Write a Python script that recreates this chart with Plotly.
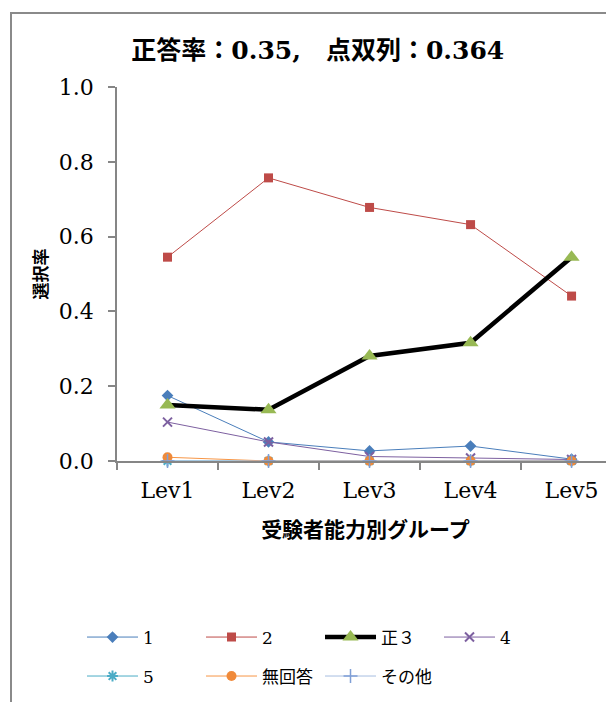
import plotly.graph_objects as go

categories = ["Lev1", "Lev2", "Lev3", "Lev4", "Lev5"]
s1 = [0.175, 0.051, 0.027, 0.040, 0.005]
s2 = [0.545, 0.757, 0.678, 0.632, 0.441]
s3 = [0.150, 0.137, 0.281, 0.316, 0.545]
s4 = [0.104, 0.051, 0.012, 0.008, 0.004]
s5 = [0.000, 0.000, 0.000, 0.000, 0.000]
s_none = [0.010, 0.000, 0.000, 0.000, 0.000]
s_other = [0.000, 0.000, 0.000, 0.000, 0.000]

names = ["1", "2", "正３", "4", "5", "無回答", "その他"]
title_text = "正答率：0.35,　点双列：0.364"

SERIF = "DejaVu Serif, Liberation Serif, Noto Sans CJK JP"

fig = go.Figure()

styles = [
    (s1, "#4a7ebb", 1, dict(symbol="diamond", size=9, color="#4a7ebb"), "legend"),
    (s2, "#be4b48", 1, dict(symbol="square", size=9, color="#be4b48"), "legend"),
    (s3, "#000000", 4.5, dict(symbol="triangle-up", size=14, color="#98b954"), "legend"),
    (s4, "#7d60a0", 1, dict(symbol="x-thin-open", size=9, color="#7d60a0", line=dict(width=2, color="#7d60a0")), "legend"),
    (s5, "#4bacc6", 1, dict(symbol="asterisk-open", size=9, color="#4bacc6", line=dict(width=2, color="#4bacc6")), "legend2"),
    (s_none, "#f79646", 1, dict(symbol="circle", size=10, color="#f08a3a"), "legend2"),
    (s_other, "#a7bde0", 1, dict(symbol="cross-thin-open", size=10, color="#7f9fd6", line=dict(width=1.5, color="#7f9fd6")), "legend2"),
]

for (vals, lc, lw, mk, lg), nm in zip(styles, names):
    fig.add_trace(go.Scatter(
        x=categories, y=vals, name=nm, mode="lines+markers",
        line=dict(color=lc, width=lw), marker=mk, cliponaxis=False, legend=lg,
    ))

leg_common = dict(orientation="h", xanchor="left", yanchor="top",
                  entrywidth=53, entrywidthmode="pixels", itemwidth=51,
                  font=dict(size=17, family=SERIF), itemclick=False,
                  bgcolor="rgba(0,0,0,0)")

fig.update_layout(
    width=606, height=694,
    margin=dict(l=109, r=0, t=79, b=241, autoexpand=False),
    paper_bgcolor="white", plot_bgcolor="white",
    font=dict(family=SERIF, color="#000000"),
    title=dict(text="<b>" + title_text + "</b>", x=0.404, xanchor="center",
               xref="paper",
               y=1 - 42 / 694, yanchor="middle",
               font=dict(size=25, family=SERIF, color="#000000")),
    showlegend=True,
    legend=dict(x=-0.0704, y=-0.4238, **leg_common),
    legend2=dict(x=-0.0704, y=-0.528, **leg_common),
    xaxis=dict(
        type="category", range=[-0.5, 4.42],
        showgrid=False, zeroline=False,
        showline=True, linecolor="#868686", linewidth=1.5,
        ticks="outside", tickson="boundaries", ticklen=7, tickcolor="#868686", tickwidth=1.5,
        tickfont=dict(size=22, family=SERIF), ticklabelstandoff=9,
        title=dict(text="<b>受験者能力別グループ</b>", font=dict(size=21, family=SERIF), standoff=20),
    ),
    yaxis=dict(
        range=[0, 1.0], dtick=0.2, tickformat=".1f",
        showgrid=False, zeroline=False,
        showline=True, linecolor="#868686", linewidth=1.5,
        ticks="outside", ticklen=7, tickcolor="#868686", tickwidth=1.5,
        tickfont=dict(size=22, family=SERIF), ticklabelstandoff=10,
        title=dict(text="<b>選択率</b>", font=dict(size=17, family=SERIF), standoff=7),
    ),
)

# outer chart frame (left and top edges visible)
fig.add_shape(type="rect", xref="paper", yref="paper",
              x0=(11 - 117) / 497, x1=(640 - 117) / 497,
              y0=(461 - 720) / 374, y1=(461 - 13) / 374,
              line=dict(color="#8a8a8a", width=2), layer="below")

fig.write_html("out.html")
